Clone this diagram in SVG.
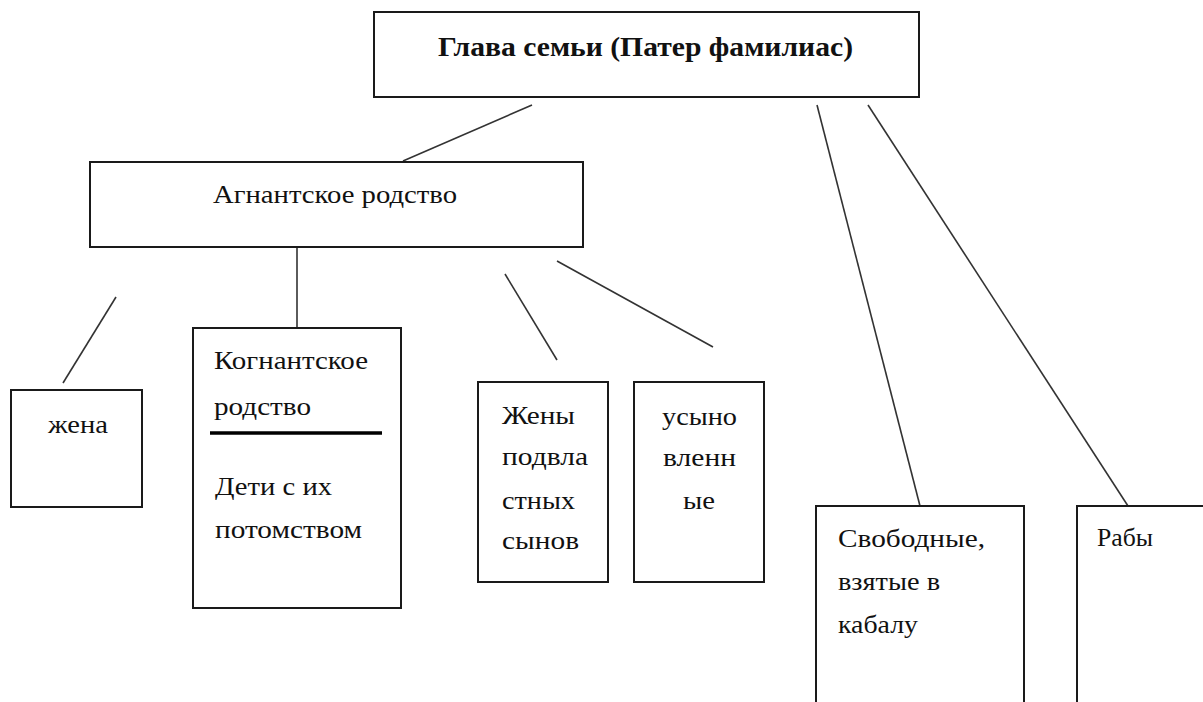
<svg xmlns="http://www.w3.org/2000/svg" width="1203" height="702" viewBox="0 0 1203 702">
<style>
.box{fill:#fff;stroke:#1a1a1a;stroke-width:2}
.ln{stroke:#333;stroke-width:1.6;fill:none}
.t{font-family:"Liberation Serif","Times New Roman",serif;font-size:26px;fill:#111}
.tb{font-family:"Liberation Serif","Times New Roman",serif;font-size:28px;font-weight:bold;fill:#111}
</style>
<rect width="1203" height="702" fill="#fff"/>
<g id="connectors">
<line class="ln" x1="532" y1="105" x2="403" y2="161"/>
<line class="ln" x1="297" y1="247" x2="297" y2="332"/>
<line class="ln" x1="116" y1="297" x2="63" y2="383"/>
<line class="ln" x1="505" y1="274" x2="557" y2="360"/>
<line class="ln" x1="557" y1="261" x2="713" y2="347"/>
<line class="ln" x1="817" y1="105" x2="920" y2="506"/>
<line class="ln" x1="868" y1="105" x2="1128" y2="506"/>
</g>
<g id="head">
<rect class="box" x="374" y="12" width="545" height="85"/>
<text class="tb" x="438" y="56" textLength="415" lengthAdjust="spacingAndGlyphs">Глава семьи (Патер фамилиас)</text>
</g>
<g id="agnant">
<rect class="box" x="90" y="162" width="493" height="85"/>
<text class="t" x="213" y="203" textLength="244" lengthAdjust="spacingAndGlyphs">Агнантское родство</text>
</g>
<g id="wife">
<rect class="box" x="11" y="390" width="131" height="117"/>
<text class="t" x="48" y="433" textLength="60" lengthAdjust="spacingAndGlyphs">жена</text>
</g>
<g id="kognant">
<rect class="box" x="193" y="328" width="208" height="280"/>
<text class="t" x="214" y="369" textLength="154" lengthAdjust="spacingAndGlyphs">Когнантское</text>
<text class="t" x="214" y="415" textLength="97" lengthAdjust="spacingAndGlyphs">родство</text>
<line x1="210" y1="433" x2="382" y2="433" stroke="#000" stroke-width="3.5"/>
<text class="t" x="215" y="495" textLength="117" lengthAdjust="spacingAndGlyphs">Дети с их</text>
<text class="t" x="215" y="538" textLength="147" lengthAdjust="spacingAndGlyphs">потомством</text>
</g>
<g id="wives">
<rect class="box" x="478" y="382" width="130" height="200"/>
<text class="t" x="502" y="424" textLength="73" lengthAdjust="spacingAndGlyphs">Жены</text>
<text class="t" x="502" y="465" textLength="86" lengthAdjust="spacingAndGlyphs">подвла</text>
<text class="t" x="502" y="509" textLength="73" lengthAdjust="spacingAndGlyphs">стных</text>
<text class="t" x="502" y="549" textLength="77" lengthAdjust="spacingAndGlyphs">сынов</text>
</g>
<g id="adopted">
<rect class="box" x="634" y="382" width="130" height="200"/>
<text class="t" x="662" y="425" textLength="75" lengthAdjust="spacingAndGlyphs">усыно</text>
<text class="t" x="663" y="466" textLength="73" lengthAdjust="spacingAndGlyphs">вленн</text>
<text class="t" x="683" y="509" textLength="32" lengthAdjust="spacingAndGlyphs">ые</text>
</g>
<g id="bonded">
<rect class="box" x="816" y="506" width="208" height="220"/>
<text class="t" x="838" y="547" textLength="147" lengthAdjust="spacingAndGlyphs">Свободные,</text>
<text class="t" x="838" y="590" textLength="102" lengthAdjust="spacingAndGlyphs">взятые в</text>
<text class="t" x="838" y="633" textLength="80" lengthAdjust="spacingAndGlyphs">кабалу</text>
</g>
<g id="slaves">
<rect class="box" x="1077" y="506" width="160" height="220"/>
<text class="t" x="1097" y="546" textLength="56" lengthAdjust="spacingAndGlyphs">Рабы</text>
</g>
</svg>
